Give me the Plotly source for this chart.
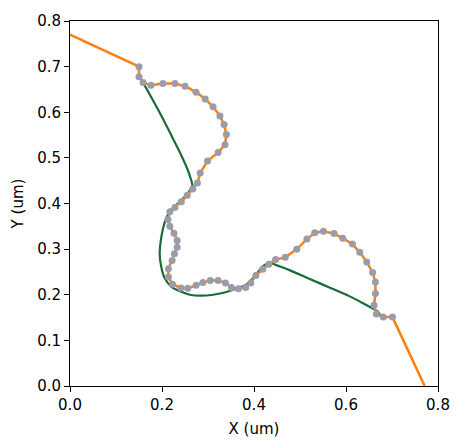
import plotly.graph_objects as go

# Sampled points (grey markers), in order along the path
dots_x = [0.150, 0.150, 0.159, 0.176, 0.202, 0.228, 0.250, 0.274, 0.294, 0.311,
          0.326, 0.335, 0.340, 0.337, 0.322, 0.299, 0.283, 0.277, 0.267, 0.255,
          0.242, 0.228, 0.217, 0.213, 0.217, 0.226, 0.233, 0.233, 0.227, 0.222,
          0.214, 0.214, 0.223, 0.241, 0.256, 0.274, 0.289, 0.305, 0.322, 0.338,
          0.351, 0.366, 0.382, 0.393, 0.404, 0.419, 0.432, 0.447, 0.468, 0.493,
          0.515, 0.532, 0.551, 0.574, 0.593, 0.614, 0.630, 0.645, 0.658, 0.664,
          0.664, 0.661, 0.666, 0.681, 0.701]
dots_y = [0.700, 0.678, 0.665, 0.659, 0.663, 0.663, 0.657, 0.644, 0.629, 0.612,
          0.592, 0.573, 0.551, 0.529, 0.512, 0.493, 0.467, 0.445, 0.432, 0.418,
          0.404, 0.391, 0.382, 0.365, 0.350, 0.335, 0.319, 0.304, 0.290, 0.275,
          0.257, 0.239, 0.223, 0.215, 0.214, 0.221, 0.227, 0.231, 0.231, 0.226,
          0.216, 0.213, 0.216, 0.226, 0.242, 0.256, 0.267, 0.277, 0.282, 0.300,
          0.322, 0.336, 0.339, 0.334, 0.324, 0.311, 0.293, 0.272, 0.249, 0.228,
          0.203, 0.177, 0.158, 0.151, 0.151]

# End points of the orange path
start_x, start_y = 0.0, 0.77
end_x, end_y = 0.771, 0.0

# Green smooth curve
green_x = [0.159, 0.180, 0.202, 0.222, 0.239, 0.253, 0.262, 0.266, 0.258, 0.240,
           0.222, 0.210, 0.202, 0.197, 0.195, 0.199, 0.206, 0.220, 0.238, 0.260,
           0.285, 0.311, 0.336, 0.361, 0.383, 0.401, 0.416, 0.426, 0.441, 0.448,
           0.477, 0.520, 0.564, 0.607, 0.636, 0.658, 0.668, 0.675]
green_y = [0.665, 0.627, 0.586, 0.546, 0.512, 0.481, 0.456, 0.438, 0.425, 0.405,
           0.388, 0.370, 0.344, 0.316, 0.287, 0.258, 0.236, 0.218, 0.208, 0.200,
           0.198, 0.200, 0.205, 0.213, 0.222, 0.240, 0.259, 0.267, 0.268, 0.265,
           0.254, 0.235, 0.216, 0.197, 0.182, 0.170, 0.164, 0.155]

orange_x = [start_x] + dots_x + [end_x]
orange_y = [start_y] + dots_y + [end_y]

fig = go.Figure()
fig.add_trace(go.Scatter(x=green_x, y=green_y, mode="lines",
                         line=dict(color="#1b6b3a", width=2.2, shape="spline", smoothing=0.8),
                         showlegend=False))
fig.add_trace(go.Scatter(x=orange_x, y=orange_y, mode="lines",
                         line=dict(color="#ff7f0e", width=2.5),
                         showlegend=False))
fig.add_trace(go.Scatter(x=dots_x, y=dots_y, mode="markers",
                         marker=dict(color="#9a9cab", size=7),
                         showlegend=False))

axis_common = dict(
    showgrid=False, zeroline=False, showline=True, linecolor="black", linewidth=1,
    mirror=True, ticks="outside", ticklen=5, tickwidth=1, tickcolor="black",
    tickfont=dict(family="DejaVu Sans", size=15, color="black"),
    title_font=dict(family="DejaVu Sans", size=15, color="black"),
)
fig.update_xaxes(range=[0, 0.8], tickvals=[0, 0.2, 0.4, 0.6, 0.8],
                 ticktext=["0.0", "0.2", "0.4", "0.6", "0.8"],
                 title_text="X (um)", title_standoff=10, **axis_common)
fig.update_yaxes(range=[0, 0.8], tickvals=[0, 0.1, 0.2, 0.3, 0.4, 0.5, 0.6, 0.7, 0.8],
                 ticktext=["0.0", "0.1", "0.2", "0.3", "0.4", "0.5", "0.6", "0.7", "0.8"],
                 title_text="Y (um)", title_standoff=9, **axis_common)
fig.update_layout(width=462, height=447, margin=dict(l=70, r=23, t=16, b=61),
                  plot_bgcolor="white", paper_bgcolor="white",
                  font=dict(family="DejaVu Sans", size=15, color="black"))
fig.write_html("out.html")
